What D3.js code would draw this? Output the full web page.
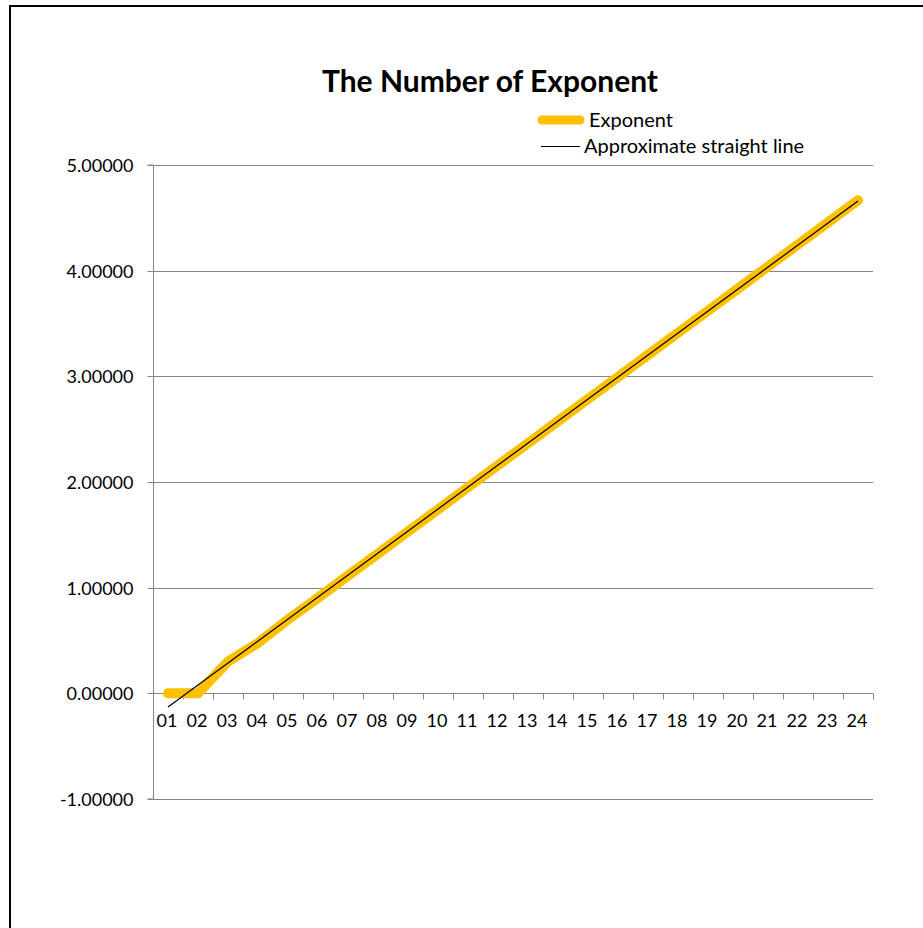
<!DOCTYPE html>
<html>
<head>
<meta charset="utf-8">
<script src="https://cdn.jsdelivr.net/npm/d3@7"></script>
<style>
  html, body { margin: 0; padding: 0; background: #fff; }
  svg { display: block; }
  text { font-family: Lato, "Open Sans", sans-serif; fill: #000; }
</style>
</head>
<body>
<svg id="chart" width="923" height="928"></svg>
<script>
// ---- data ----
const categories = ["01","02","03","04","05","06","07","08","09","10","11","12",
                    "13","14","15","16","17","18","19","20","21","22","23","24"];
const exponentValues = [0, 0, 0.30103, 0.47712, 0.69897, 0.90309, 1.11394, 1.32222,
                        1.53148, 1.74036, 1.94939, 2.15836, 2.36736, 2.57634, 2.78533, 2.99432,
                        3.20330, 3.41229, 3.62128, 3.83027, 4.03925, 4.24824, 4.45723, 4.66622];
const trendCategories = ["01", "24"];
const trendValues = [-0.13, 4.659];
const yTicks = [-1, 0, 1, 2, 3, 4, 5];
const titleText = "The Number of Exponent";
const seriesNames = ["Exponent", "Approximate straight line"];

// ---- layout ----
const svg = d3.select("#chart");
const plot = { left: 153, right: 873, top: 165, bottom: 799 };
const gridColor = "#868686";
const yellow = "#FFC000";

// frame
svg.append("rect").attr("x", 10).attr("y", 6).attr("width", 960).attr("height", 960)
  .attr("fill", "none").attr("stroke", "#000").attr("stroke-width", 2);

const x = d3.scaleBand().domain(categories).range([plot.left, plot.right]).padding(0);
const y = d3.scaleLinear().domain([-1, 5]).range([plot.bottom, plot.top]);
const cx = c => x(c) + x.bandwidth() / 2;

// gridlines
svg.append("g").selectAll("line").data(yTicks).join("line")
  .attr("x1", plot.left).attr("x2", plot.right)
  .attr("y1", d => Math.round(y(d)) + 0.5).attr("y2", d => Math.round(y(d)) + 0.5)
  .attr("stroke", gridColor).attr("stroke-width", 1);

// y axis
const fmt = d3.format(".5f");
const yAxis = d3.axisLeft(y).tickValues(yTicks).tickSize(6).tickPadding(14)
  .tickFormat(d => fmt(d).replace("\u2212", "-"));
const gy = svg.append("g").attr("transform", `translate(${plot.left + 0.5},0)`).call(yAxis);
gy.select(".domain").attr("stroke", gridColor).attr("d", `M-6,${y(5)}H0V${y(-1)}H-6`);
gy.selectAll(".tick line").attr("stroke", gridColor);
gy.selectAll(".tick").attr("transform", d => `translate(0,${Math.round(y(d)) + 0.5})`);
gy.selectAll("text").style("font-family", "Lato, sans-serif").style("font-size", "18px")
  .attr("fill", "#000").attr("dy", "0.34em");

// x axis at zero
const y0 = Math.round(y(0)) + 0.5;
const gx = svg.append("g").attr("transform", `translate(0,${y0})`);
gx.append("line").attr("x1", plot.left).attr("x2", plot.right).attr("stroke", gridColor);
gx.selectAll("line.tk").data(d3.range(categories.length + 1)).join("line").attr("class", "tk")
  .attr("x1", i => Math.round(plot.left + i * x.step()) + 0.5)
  .attr("x2", i => Math.round(plot.left + i * x.step()) + 0.5)
  .attr("y1", 0).attr("y2", 6).attr("stroke", gridColor);
gx.selectAll("text").data(categories).join("text")
  .attr("x", d => cx(d) - 1).attr("y", 33)
  .attr("text-anchor", "middle").style("font-size", "18px").text(d => d);

// exponent line
const line = d3.line().x(d => cx(d[0])).y(d => y(d[1]));
svg.append("path").datum(categories.map((c, i) => [c, exponentValues[i]]))
  .attr("d", line).attr("fill", "none").attr("stroke", yellow)
  .attr("stroke-width", 10).attr("stroke-linecap", "round").attr("stroke-linejoin", "round");

// trend line
svg.append("path").datum(trendCategories.map((c, i) => [c, trendValues[i]]))
  .attr("d", line).attr("fill", "none").attr("stroke", "#000").attr("stroke-width", 1.2);

// title
svg.append("text").attr("x", 490).attr("y", 92).attr("text-anchor", "middle")
  .style("font-size", "30px").style("font-weight", "bold").text(titleText);

// legend
const lg = svg.append("g");
lg.append("line").attr("x1", 542).attr("x2", 580).attr("y1", 120).attr("y2", 120)
  .attr("stroke", yellow).attr("stroke-width", 9).attr("stroke-linecap", "round");
lg.append("text").attr("x", 589).attr("y", 127).style("font-size", "20px").text(seriesNames[0]);
lg.append("line").attr("x1", 541).attr("x2", 580).attr("y1", 146.5).attr("y2", 146.5)
  .attr("stroke", "#000").attr("stroke-width", 1.2);
lg.append("text").attr("x", 584).attr("y", 153).style("font-size", "20px").text(seriesNames[1]);
</script>
</body>
</html>
